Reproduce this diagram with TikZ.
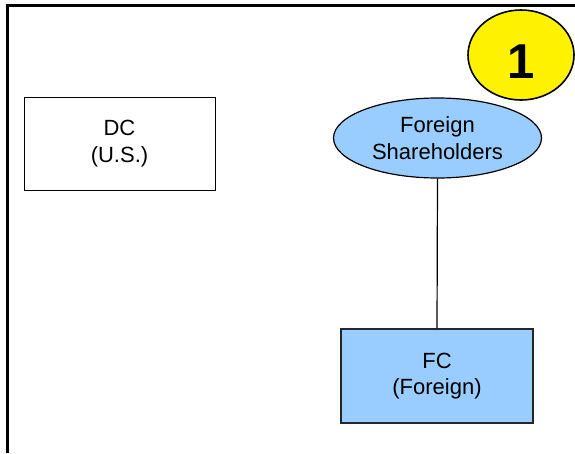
\documentclass[tikz,border=0pt]{standalone}
\usepackage{fontspec}
\setmainfont{Liberation Sans}
\usetikzlibrary{shapes.geometric}
\definecolor{lightblue}{HTML}{99CCFF}
\begin{document}
\begin{tikzpicture}[x=1pt,y=-1pt,
  lbl/.style={font=\fontsize{22}{26.5}\selectfont, align=center, text=black},
  boxw/.style={lbl, draw=black, line width=1pt, fill=white, minimum width=191pt, minimum height=93pt, inner sep=0pt},
  boxb/.style={lbl, draw=black!85, line width=1.3pt, fill=lightblue, minimum width=192pt, minimum height=94pt, inner sep=0pt},
  ell/.style={lbl, ellipse, draw=black, line width=1.2pt, fill=lightblue, minimum width=208pt, minimum height=80pt, inner sep=0pt},
  badge/.style={ellipse, draw=black, line width=1.6pt, fill=yellow, minimum width=106pt, minimum height=90pt, inner sep=0pt, text height=46pt, text depth=0pt, font=\fontsize{49}{49}\selectfont\bfseries},
  frameline/.style={line width=3pt, black},
  conn/.style={line width=1.2pt, black}]
\useasboundingbox (0,0) rectangle (575,453);
\coordinate (fb) at (7.5,453);
\coordinate (fc0) at (7.5,5.5);
\coordinate (fr) at (575,5.5);
\draw[frameline] (fb) -- (fc0) -- (fr);
\node[badge] (one) at (521,55) {1};
\node[boxw] (dc) at (119.5,143.5) {DC\\(U.S.)};
\node[ell] (sh) at (437.5,138) {Foreign\\Shareholders};
\node[boxb] (fc) at (437,376) {FC\\(Foreign)};
\draw[conn] (sh.south) -- (fc.north);
\end{tikzpicture}
\end{document}
